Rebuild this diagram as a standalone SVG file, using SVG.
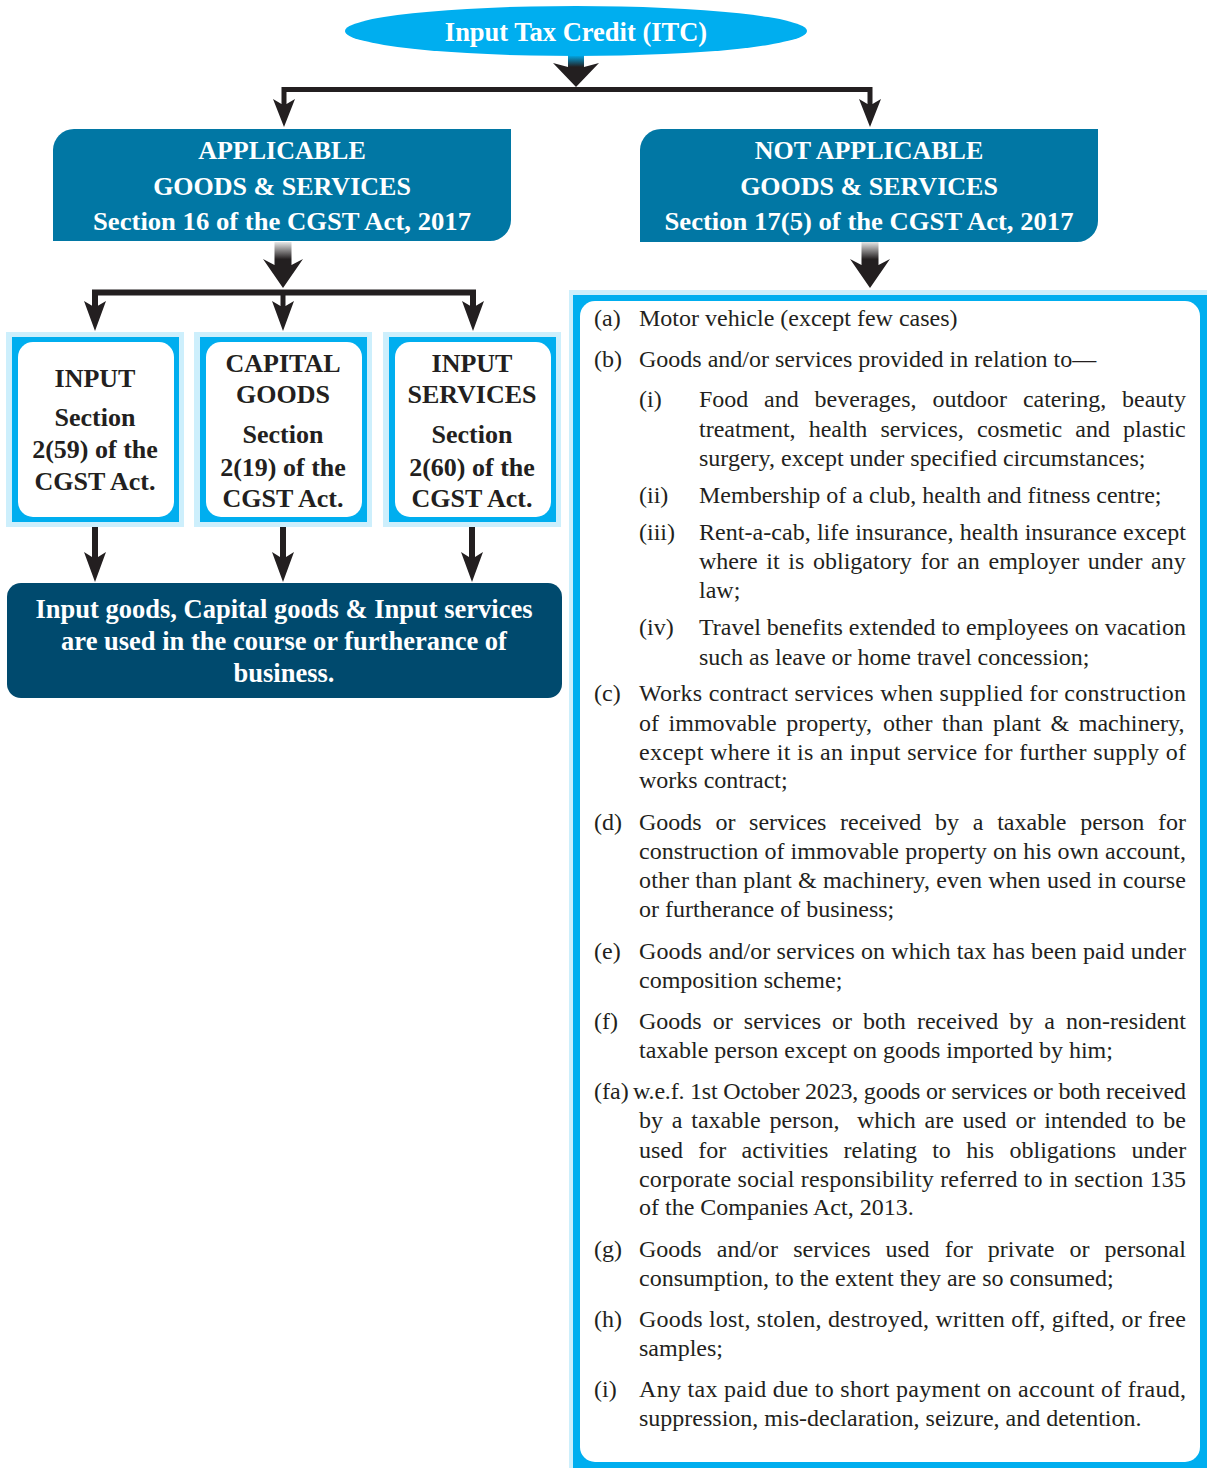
<svg xmlns="http://www.w3.org/2000/svg" width="1207" height="1468" viewBox="0 0 1207 1468">
<defs>
<linearGradient id="gCyan" x1="0" y1="0" x2="0" y2="1">
<stop offset="0" stop-color="#00AEEF"/><stop offset="1" stop-color="#231F20"/>
</linearGradient>
<linearGradient id="gGrey" x1="0" y1="0" x2="0" y2="1">
<stop offset="0" stop-color="#E6E6E6"/><stop offset="0.75" stop-color="#231F20"/><stop offset="1" stop-color="#231F20"/>
</linearGradient>
<style>
.hd{font-family:"Liberation Serif","Times New Roman",serif;font-weight:bold;font-size:26px;fill:#FFFFFF;text-anchor:middle}
.bx{font-family:"Liberation Serif","Times New Roman",serif;font-weight:bold;font-size:26px;fill:#231F20;text-anchor:middle}
.tx{font-family:"Liberation Serif","Times New Roman",serif;font-size:24px;fill:#231F20}
.ln{stroke:#231F20;fill:none}
.ah{fill:#231F20}
.light{fill:#CDEFFC}
.cyan{fill:#00AEEF}
.head{fill:#0177A4}
</style>
</defs>
<rect width="1207" height="1468" fill="#FFFFFF"/>

<g id="connectors">
<rect x="568" y="55" width="16" height="12" fill="url(#gCyan)"/>
<polygon class="ah" points="568,67 553,63 576,87 599,63 584,67"/>
<path class="ln" stroke-width="5" d="M284,104 V89.5 H870 V104"/>
<polygon class="ah" points="281.5,104 273,99 284,127 295,99 286.5,104"/>
<polygon class="ah" points="867.5,104 859,99 870,127 881,99 872.5,104"/>

<rect x="274.5" y="242" width="17" height="23" fill="url(#gGrey)"/>
<polygon class="ah" points="274.5,265 263,259 283,288 303,259 291.5,265"/>
<rect x="861.5" y="242" width="17" height="23" fill="url(#gGrey)"/>
<polygon class="ah" points="861.5,265 850,259 870,288 890,259 878.5,265"/>

<path class="ln" stroke-width="6" d="M95,306 V292.5 H473 V306"/>
<line class="ln" stroke-width="5" x1="283" y1="292" x2="283" y2="306"/>
<polygon class="ah" points="92.5,306 84,301 95,331 106,301 97.5,306"/>
<polygon class="ah" points="280.5,306 272,301 283,331 294,301 285.5,306"/>
<polygon class="ah" points="470.5,306 462,301 473,331 484,301 475.5,306"/>

<line class="ln" stroke-width="6" x1="95" y1="527" x2="95" y2="557"/>
<polygon class="ah" points="92,557 84,552 95,582 106,552 98,557"/>
<line class="ln" stroke-width="6" x1="283" y1="527" x2="283" y2="557"/>
<polygon class="ah" points="280,557 272,552 283,582 294,552 286,557"/>
<line class="ln" stroke-width="6" x1="472" y1="527" x2="472" y2="557"/>
<polygon class="ah" points="469,557 461,552 472,582 483,552 475,557"/>
</g>

<g id="itc">
<ellipse cx="576" cy="31" rx="231" ry="25" fill="#00AEEF"/>
<text class="hd" x="576" y="41" style="font-size:26.5px">Input Tax Credit (ITC)</text>
</g>

<g id="applicable">
<path class="head" d="M74,129 H511 V220 A21,21 0 0 1 490,241 H53 V150 A21,21 0 0 1 74,129 Z"/>
<text class="hd" x="282" y="159">APPLICABLE</text>
<text class="hd" x="282" y="195">GOODS &amp; SERVICES</text>
<text class="hd" x="282" y="230" textLength="378" lengthAdjust="spacingAndGlyphs">Section 16 of the CGST Act, 2017</text>
</g>

<g id="not-applicable">
<path class="head" d="M661,129 H1098 V221 A21,21 0 0 1 1077,242 H640 V150 A21,21 0 0 1 661,129 Z"/>
<text class="hd" x="869" y="159">NOT APPLICABLE</text>
<text class="hd" x="869" y="195">GOODS &amp; SERVICES</text>
<text class="hd" x="869" y="230" textLength="409" lengthAdjust="spacingAndGlyphs">Section 17(5) of the CGST Act, 2017</text>
</g>

<g id="input">
<rect class="light" x="6" y="332" width="178" height="195"/>
<rect class="cyan" x="12" y="337" width="167" height="185"/>
<rect x="18" y="342" width="156" height="175" rx="15" fill="#FFFFFF"/>
<text class="bx" x="95" y="387">INPUT</text>
<text class="bx" x="95" y="426">Section</text>
<text class="bx" x="95" y="458">2(59) of the</text>
<text class="bx" x="95" y="490">CGST Act.</text>
</g>

<g id="capital-goods">
<rect class="light" x="194" y="332" width="178" height="195"/>
<rect class="cyan" x="200" y="337" width="167" height="185"/>
<rect x="206" y="342" width="156" height="175" rx="15" fill="#FFFFFF"/>
<text class="bx" x="283" y="372">CAPITAL</text>
<text class="bx" x="283" y="403">GOODS</text>
<text class="bx" x="283" y="443">Section</text>
<text class="bx" x="283" y="476">2(19) of the</text>
<text class="bx" x="283" y="507">CGST Act.</text>
</g>

<g id="input-services">
<rect class="light" x="383" y="332" width="178" height="195"/>
<rect class="cyan" x="389" y="337" width="167" height="185"/>
<rect x="395" y="342" width="156" height="175" rx="15" fill="#FFFFFF"/>
<text class="bx" x="472" y="372">INPUT</text>
<text class="bx" x="472" y="403">SERVICES</text>
<text class="bx" x="472" y="443">Section</text>
<text class="bx" x="472" y="476">2(60) of the</text>
<text class="bx" x="472" y="507">CGST Act.</text>
</g>

<g id="business">
<rect x="7" y="583" width="555" height="115" rx="14" fill="#004A6E"/>
<text class="hd" x="284" y="618" style="font-size:26.5px">Input goods, Capital goods &amp; Input services</text>
<text class="hd" x="284" y="650" style="font-size:26.5px">are used in the course or furtherance of</text>
<text class="hd" x="284" y="682" style="font-size:26.5px">business.</text>
</g>

<g id="blocked-list">
<rect class="light" x="569" y="290" width="638" height="1178"/>
<rect class="cyan" x="573" y="295" width="634" height="1173"/>
<rect x="580" y="301" width="620" height="1161" rx="15" fill="#FFFFFF"/>

<text class="tx" x="594" y="326">(a)</text>
<text class="tx" x="639" y="326">Motor vehicle (except few cases)</text>
<text class="tx" x="594" y="367">(b)</text>
<text class="tx" x="639" y="367">Goods and/or services provided in relation to—</text>

<text class="tx" x="639" y="407">(i)</text>
<text class="tx" y="407"><tspan x="699">Food</tspan><tspan x="764.1">and</tspan><tspan x="814.6">beverages,</tspan><tspan x="932.4">outdoor</tspan><tspan x="1022.9">catering,</tspan><tspan x="1122">beauty</tspan></text>
<text class="tx" y="437"><tspan x="699">treatment,</tspan><tspan x="808.7">health</tspan><tspan x="880.5">services,</tspan><tspan x="976.9">cosmetic</tspan><tspan x="1075.3">and</tspan><tspan x="1123.1">plastic</tspan></text>
<text class="tx" x="699" y="466">surgery, except under specified circumstances;</text>

<text class="tx" x="639" y="503">(ii)</text>
<text class="tx" x="699" y="503">Membership of a club, health and fitness centre;</text>

<text class="tx" x="639" y="540">(iii)</text>
<text class="tx" x="699" y="540" textLength="487" lengthAdjust="spacing">Rent-a-cab, life insurance, health insurance except</text>
<text class="tx" y="569"><tspan x="699">where</tspan><tspan x="766.3">it</tspan><tspan x="788.3">is</tspan><tspan x="813">obligatory</tspan><tspan x="920.4">for</tspan><tspan x="957.1">an</tspan><tspan x="988.5">employer</tspan><tspan x="1087.8">under</tspan><tspan x="1151.1">any</tspan></text>
<text class="tx" x="699" y="598">law;</text>

<text class="tx" x="639" y="635">(iv)</text>
<text class="tx" x="699" y="635" textLength="487" lengthAdjust="spacing">Travel benefits extended to employees on vacation</text>
<text class="tx" x="699" y="665">such as leave or home travel concession;</text>

<text class="tx" x="594" y="701">(c)</text>
<text class="tx" x="639" y="701" textLength="547" lengthAdjust="spacing">Works contract services when supplied for construction</text>
<text class="tx" y="731"><tspan x="639">of</tspan><tspan x="668.6">immovable</tspan><tspan x="786.2">property,</tspan><tspan x="883.1">other</tspan><tspan x="942">than</tspan><tspan x="992.9">plant</tspan><tspan x="1050.5">&amp;</tspan><tspan x="1078.8">machinery,</tspan></text>
<text class="tx" x="639" y="760" textLength="547" lengthAdjust="spacing">except where it is an input service for further supply of</text>
<text class="tx" x="639" y="788">works contract;</text>

<text class="tx" x="594" y="830">(d)</text>
<text class="tx" y="830"><tspan x="639">Goods</tspan><tspan x="715.4">or</tspan><tspan x="749.1">services</tspan><tspan x="840.1">received</tspan><tspan x="935.1">by</tspan><tspan x="972.8">a</tspan><tspan x="997.2">taxable</tspan><tspan x="1080.2">person</tspan><tspan x="1157.9">for</tspan></text>
<text class="tx" x="639" y="859" textLength="547" lengthAdjust="spacing">construction of immovable property on his own account,</text>
<text class="tx" x="639" y="888" textLength="547" lengthAdjust="spacing">other than plant &amp; machinery, even when used in course</text>
<text class="tx" x="639" y="917">or furtherance of business;</text>

<text class="tx" x="594" y="959">(e)</text>
<text class="tx" x="639" y="959" textLength="547" lengthAdjust="spacing">Goods and/or services on which tax has been paid under</text>
<text class="tx" x="639" y="988">composition scheme;</text>

<text class="tx" x="594" y="1029">(f)</text>
<text class="tx" y="1029"><tspan x="639">Goods</tspan><tspan x="712.7">or</tspan><tspan x="743.8">services</tspan><tspan x="832.1">or</tspan><tspan x="863.1">both</tspan><tspan x="916.9">received</tspan><tspan x="1009.2">by</tspan><tspan x="1044.3">a</tspan><tspan x="1066">non-resident</tspan></text>
<text class="tx" x="639" y="1058">taxable person except on goods imported by him;</text>

<text class="tx" x="594" y="1099">(fa)</text>
<text class="tx" x="633" y="1099" textLength="553" lengthAdjust="spacing">w.e.f. 1st October 2023, goods or services or both received</text>
<text class="tx" y="1128"><tspan x="639">by</tspan><tspan x="671.8">a</tspan><tspan x="691.3">taxable</tspan><tspan x="769.4">person,</tspan><tspan x="857">which</tspan><tspan x="924.5">are</tspan><tspan x="962.6">used</tspan><tspan x="1015.4">or</tspan><tspan x="1044.2">intended</tspan><tspan x="1135.7">to</tspan><tspan x="1163.2">be</tspan></text>
<text class="tx" y="1158"><tspan x="639">used</tspan><tspan x="698.3">for</tspan><tspan x="741.6">activities</tspan><tspan x="843.6">relating</tspan><tspan x="932.2">to</tspan><tspan x="966.2">his</tspan><tspan x="1009.5">obligations</tspan><tspan x="1131.5">under</tspan></text>
<text class="tx" x="639" y="1187" textLength="547" lengthAdjust="spacing">corporate social responsibility referred to in section 135</text>
<text class="tx" x="639" y="1215">of the Companies Act, 2013.</text>

<text class="tx" x="594" y="1257">(g)</text>
<text class="tx" y="1257"><tspan x="639">Goods</tspan><tspan x="716.8">and/or</tspan><tspan x="793.2">services</tspan><tspan x="885.6">used</tspan><tspan x="944.7">for</tspan><tspan x="987.8">private</tspan><tspan x="1069.5">or</tspan><tspan x="1104.6">personal</tspan></text>
<text class="tx" x="639" y="1286">consumption, to the extent they are so consumed;</text>

<text class="tx" x="594" y="1327">(h)</text>
<text class="tx" x="639" y="1327" textLength="547" lengthAdjust="spacing">Goods lost, stolen, destroyed, written off, gifted, or free</text>
<text class="tx" x="639" y="1356">samples;</text>

<text class="tx" x="594" y="1397">(i)</text>
<text class="tx" x="639" y="1397" textLength="547" lengthAdjust="spacing">Any tax paid due to short payment on account of fraud,</text>
<text class="tx" x="639" y="1426">suppression, mis-declaration, seizure, and detention.</text>
</g>
</svg>
